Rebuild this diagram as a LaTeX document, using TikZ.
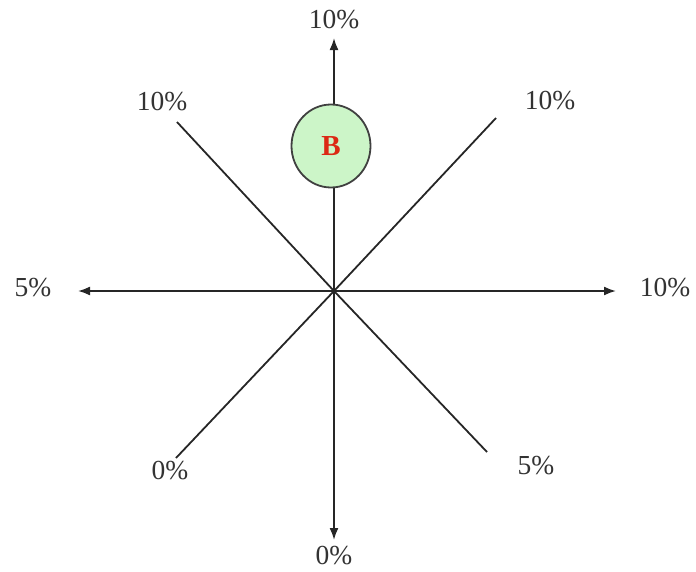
\documentclass[tikz,border=0pt]{standalone}
\usepackage{fontspec}
\setmainfont{Liberation Serif}
\usetikzlibrary{arrows.meta,shapes.geometric}
\definecolor{bfill}{RGB}{204,245,200}
\definecolor{bred}{RGB}{220,40,20}
\begin{document}
\begin{tikzpicture}[x=1pt,y=-1pt,
  ray/.style={draw=black!85,line width=1.8pt},
  arr/.style={ray,-{Latex[length=12pt,width=9pt]}},
  lbl/.style={font=\fontsize{27.5}{30}\selectfont,text=black!80,inner sep=0pt},
  bnode/.style={ellipse,draw=black!75,line width=1.8pt,fill=bfill,minimum width=79pt,minimum height=83pt,inner sep=0pt,font=\fontsize{29}{30}\selectfont\bfseries,text=bred}]
\useasboundingbox (0,0) rectangle (696,571);
\coordinate (c) at (334,291);
\coordinate (up) at (334,38);
\coordinate (dn) at (334,540);
\coordinate (lf) at (78,291);
\coordinate (rt) at (616,291);
\coordinate (ul) at (177,122);
\coordinate (ur) at (496,118);
\coordinate (ll) at (176,458);
\coordinate (lr) at (487,452);
\draw[arr] (c) -- (up);
\draw[arr] (c) -- (dn);
\draw[arr] (c) -- (lf);
\draw[arr] (c) -- (rt);
\draw[ray] (c) -- (ul);
\draw[ray] (c) -- (ur);
\draw[ray] (c) -- (ll);
\draw[ray] (c) -- (lr);
\node[bnode] (B) at (331,146) {B};
\node[lbl] (tup) at (334,20) {10\%};
\node[lbl] (tdn) at (334,556) {0\%};
\node[lbl] (tlf) at (33,288) {5\%};
\node[lbl] (trt) at (665,288) {10\%};
\node[lbl] (tul) at (162,102) {10\%};
\node[lbl] (tur) at (550,101) {10\%};
\node[lbl] (tll) at (170,471) {0\%};
\node[lbl] (tlr) at (536,466) {5\%};
\end{tikzpicture}
\end{document}
